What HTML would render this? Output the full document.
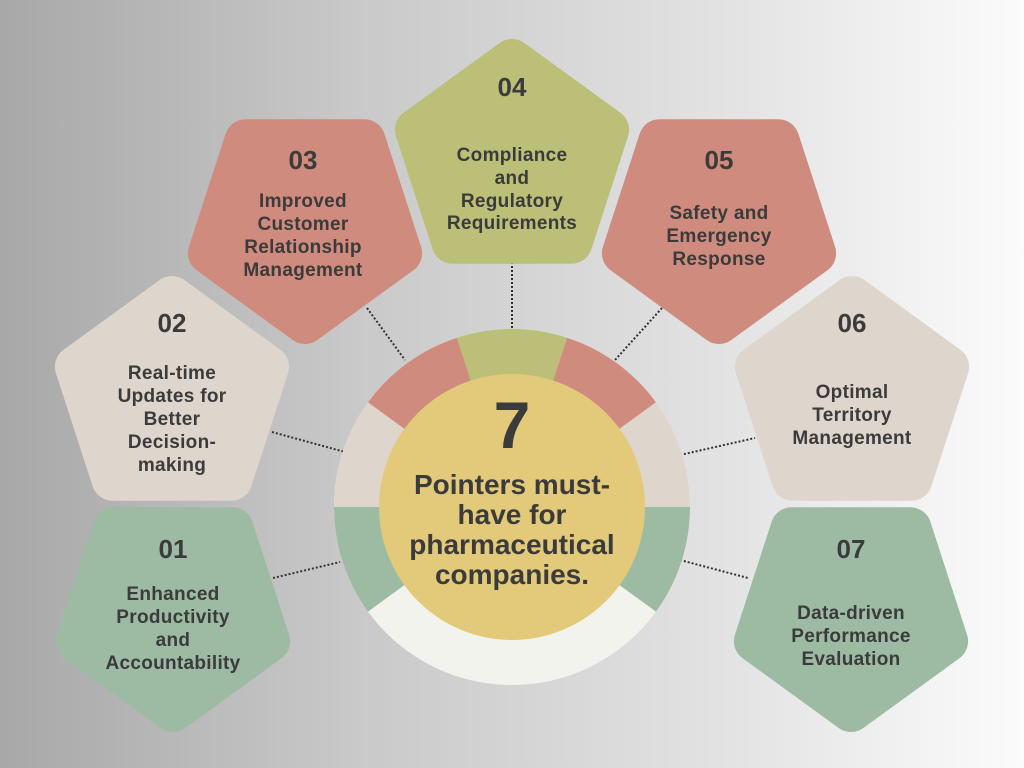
<!DOCTYPE html>
<html><head><meta charset="utf-8"><style>
html,body{margin:0;padding:0;}
body{width:1024px;height:768px;overflow:hidden;background:linear-gradient(90deg,#a8a8a8 0%,#c9c9c9 35%,#e2e2e2 70%,#fbfbfb 100%);}
svg{display:block}
text{font-family:"Liberation Sans",sans-serif;font-weight:bold;fill:#3b3b3b;text-anchor:middle;}
.n{font-size:26px}
.t{font-size:19px;letter-spacing:0.3px}
.c{font-size:28px}
</style></head><body>
<svg width="1024" height="768" viewBox="0 0 1024 768">
<defs>
<polygon id="up" points="0,-101 96.1,-31.2 59.4,81.7 -59.4,81.7 -96.1,-31.2" stroke-width="42" stroke-linejoin="round"/>
<polygon id="dn" points="0,101 96.1,31.2 59.4,-81.7 -59.4,-81.7 -96.1,31.2" stroke-width="42" stroke-linejoin="round"/>
</defs>
<g stroke="#333" stroke-width="2" stroke-dasharray="2 2" fill="none">
<line x1="367" y1="308" x2="405" y2="360"/>
<line x1="512" y1="262" x2="512" y2="332"/>
<line x1="662" y1="308" x2="615" y2="360"/>
<line x1="272" y1="432" x2="345" y2="452"/>
<line x1="680" y1="455" x2="755" y2="438"/>
<line x1="273" y1="578" x2="340" y2="562"/>
<line x1="680" y1="560" x2="748" y2="578"/>
</g>
<use href="#dn" x="305" y="222" fill="#cf8b7e" stroke="#cf8b7e"/>
<use href="#up" x="512" y="161" fill="#bbbf78" stroke="#bbbf78"/>
<use href="#dn" x="719" y="222" fill="#cf8b7e" stroke="#cf8b7e"/>
<use href="#up" x="172" y="398" fill="#ded5cc" stroke="#ded5cc"/>
<use href="#up" x="852" y="398" fill="#ded5cc" stroke="#ded5cc"/>
<use href="#dn" x="173" y="610" fill="#9dbaa3" stroke="#9dbaa3"/>
<use href="#dn" x="851" y="610" fill="#9dbaa3" stroke="#9dbaa3"/>

<circle cx="512" cy="507" r="178" fill="#f2f3ec"/>
<path d="M512,507 L368,611.6 A178,178 0 0 1 334,507 Z" fill="#9dbaa3"/>
<path d="M512,507 L334,507 A178,178 0 0 1 368,402.4 Z" fill="#ded5cc"/>
<path d="M512,507 L368,402.4 A178,178 0 0 1 457,337.7 Z" fill="#cf8b7e"/>
<path d="M512,507 L457,337.7 A178,178 0 0 1 567,337.7 Z" fill="#bbbf78"/>
<path d="M512,507 L567,337.7 A178,178 0 0 1 656,402.4 Z" fill="#cf8b7e"/>
<path d="M512,507 L656,402.4 A178,178 0 0 1 690,507 Z" fill="#ded5cc"/>
<path d="M512,507 L690,507 A178,178 0 0 1 656,611.6 Z" fill="#9dbaa3"/>
<circle cx="512" cy="507" r="133" fill="#e3c97a"/>

<text x="512" y="448" style="font-size:66px">7</text>
<text class="c" x="512" y="494">Pointers must-</text>
<text class="c" x="512" y="524">have for</text>
<text class="c" x="512" y="554">pharmaceutical</text>
<text class="c" x="512" y="584">companies.</text>

<text class="n" x="303" y="169">03</text>
<text class="t" x="303" y="207">Improved</text>
<text class="t" x="303" y="230">Customer</text>
<text class="t" x="303" y="253">Relationship</text>
<text class="t" x="303" y="276">Management</text>

<text class="n" x="512" y="96">04</text>
<text class="t" x="512" y="161">Compliance</text>
<text class="t" x="512" y="184">and</text>
<text class="t" x="512" y="207">Regulatory</text>
<text class="t" x="512" y="229">Requirements</text>

<text class="n" x="719" y="169">05</text>
<text class="t" x="719" y="219">Safety and</text>
<text class="t" x="719" y="242">Emergency</text>
<text class="t" x="719" y="265">Response</text>

<text class="n" x="172" y="332">02</text>
<text class="t" x="172" y="379">Real-time</text>
<text class="t" x="172" y="402">Updates for</text>
<text class="t" x="172" y="425">Better</text>
<text class="t" x="172" y="448">Decision-</text>
<text class="t" x="172" y="471">making</text>

<text class="n" x="852" y="332">06</text>
<text class="t" x="852" y="398">Optimal</text>
<text class="t" x="852" y="421">Territory</text>
<text class="t" x="852" y="444">Management</text>

<text class="n" x="173" y="558">01</text>
<text class="t" x="173" y="600">Enhanced</text>
<text class="t" x="173" y="623">Productivity</text>
<text class="t" x="173" y="646">and</text>
<text class="t" x="173" y="669">Accountability</text>

<text class="n" x="851" y="558">07</text>
<text class="t" x="851" y="619">Data-driven</text>
<text class="t" x="851" y="642">Performance</text>
<text class="t" x="851" y="665">Evaluation</text>
</svg>
</body></html>
